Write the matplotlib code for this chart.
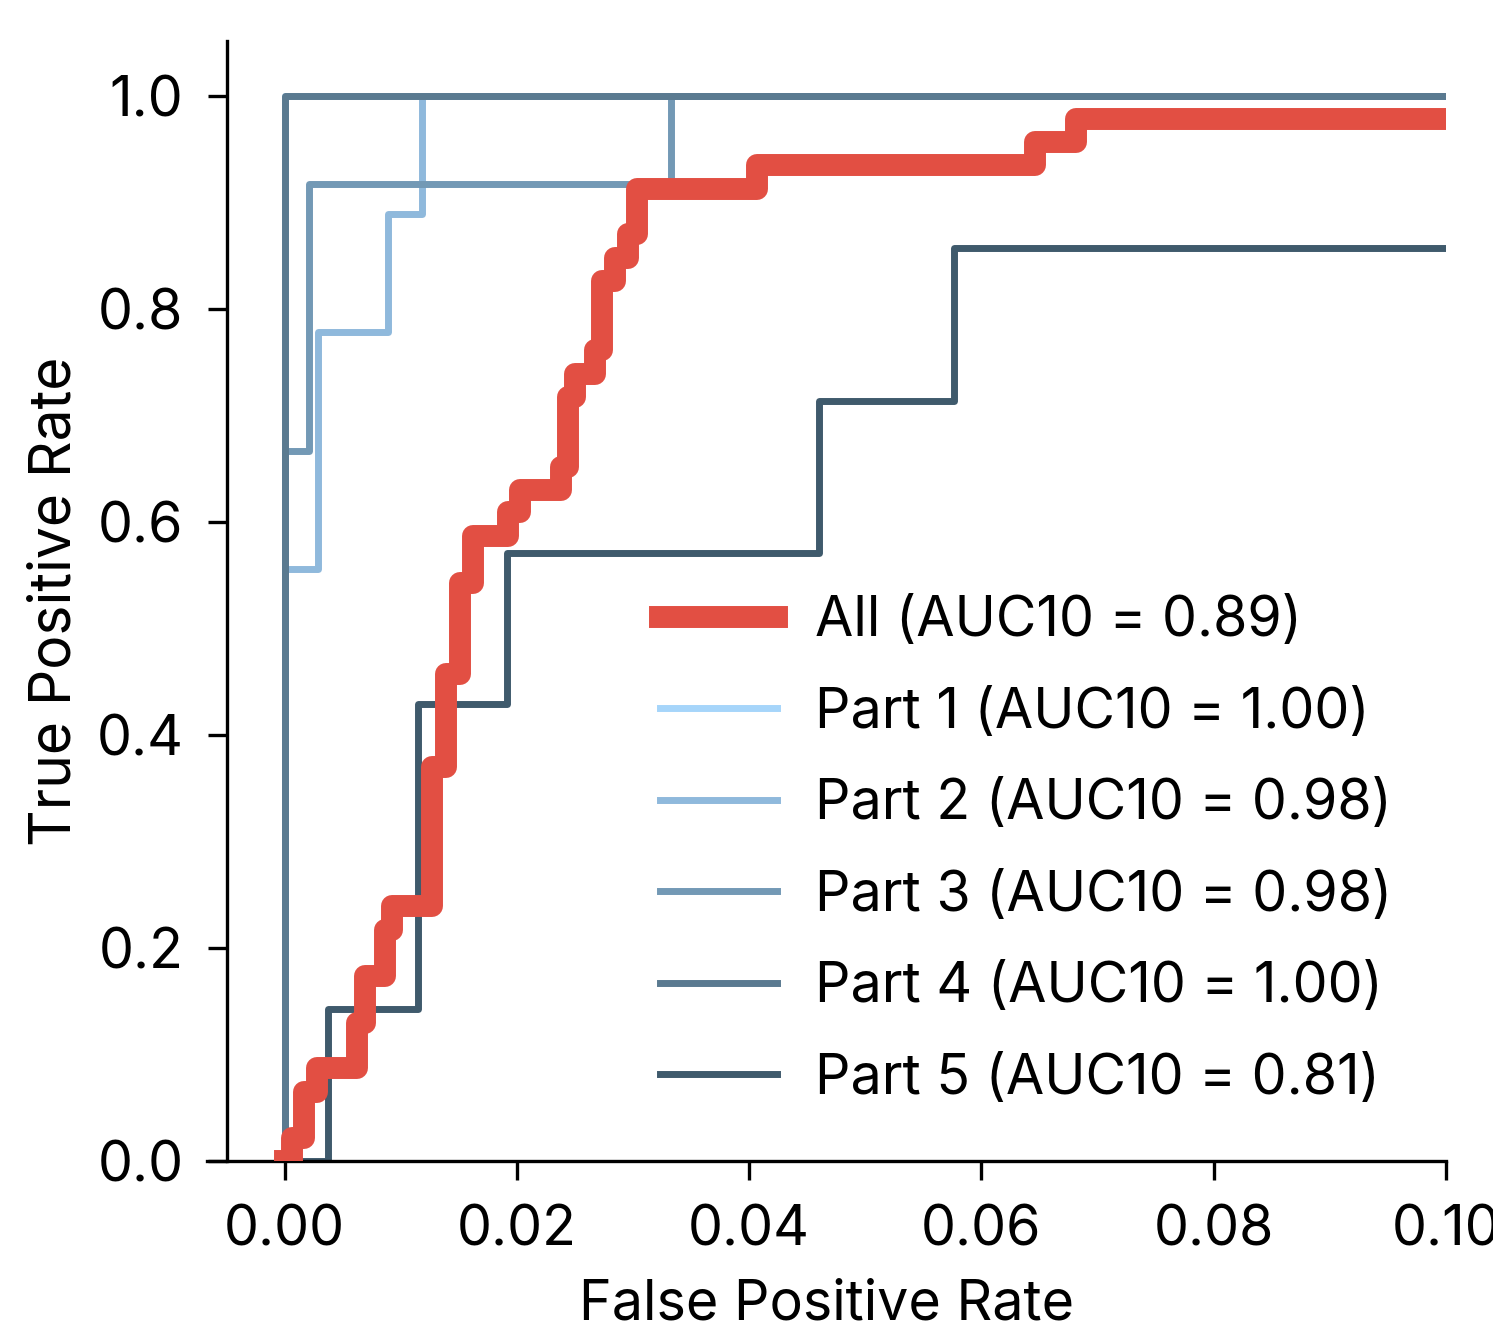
import matplotlib
matplotlib.use("Agg")
import matplotlib.pyplot as plt

plt.rcParams["font.family"] = ["Inter", "DejaVu Sans"]

# ROC step points (fpr, tpr), drawn with steps-post
all_fpr = [0.0, 0.0006, 0.0017, 0.0028, 0.0062, 0.0069, 0.0086, 0.0092, 0.0127,
           0.0139, 0.0151, 0.0162, 0.0192, 0.0203, 0.0238, 0.0244, 0.0250, 0.0267,
           0.0273, 0.0284, 0.0296, 0.0303, 0.0407, 0.0646, 0.0681, 0.1]
all_tpr = [0.0, 0.022, 0.065, 0.087, 0.130, 0.174, 0.217, 0.239, 0.370,
           0.457, 0.543, 0.587, 0.609, 0.630, 0.652, 0.717, 0.739, 0.761,
           0.826, 0.848, 0.870, 0.913, 0.935, 0.957, 0.978, 0.978]

part_fpr = [
    [0.0, 0.0, 0.1],
    [0.0, 0.0, 0.0029, 0.0089, 0.0118, 0.1],
    [0.0, 0.0, 0.0021, 0.0333, 0.1],
    [0.0, 0.0, 0.1],
    [0.0, 0.0037, 0.0115, 0.0191, 0.0460, 0.0576, 0.1],
]
part_tpr = [
    [0.0, 1.0, 1.0],
    [0.0, 0.556, 0.778, 0.889, 1.0, 1.0],
    [0.0, 0.667, 0.917, 1.0, 1.0],
    [0.0, 1.0, 1.0],
    [0.0, 0.143, 0.429, 0.571, 0.714, 0.857, 0.857],
]
part_auc = [1.00, 0.98, 0.98, 1.00, 0.81]
all_auc = 0.89

part_colors = ["#a6d5fa", "#8fb9dc", "#7399b5", "#5a7a90", "#3f5a6c"]
all_color = "#e24f43"

fig = plt.figure(figsize=(7.465, 6.61), dpi=200)
ax = fig.add_axes([0.1386, 0.1218, 0.8299, 0.8472])

ax.plot(all_fpr, all_tpr, drawstyle="steps-post", color=all_color, linewidth=7.9,
        label=f"All (AUC10 = {all_auc:.2f})", zorder=3)
for i, (fp, tp) in enumerate(zip(part_fpr, part_tpr)):
    ax.plot(fp, tp, drawstyle="steps-post", color=part_colors[i], linewidth=2.5,
            label=f"Part {i + 1} (AUC10 = {part_auc[i]:.2f})", zorder=2)

ax.set_xlim(-0.0067, 0.1)
ax.set_ylim(0, 1.0516)
ax.set_xticks([0.0, 0.02, 0.04, 0.06, 0.08, 0.10])
ax.set_yticks([0.0, 0.2, 0.4, 0.6, 0.8, 1.0])
ax.set_xticklabels(["0.00", "0.02", "0.04", "0.06", "0.08", "0.10"])

ax.spines["top"].set_visible(False)
ax.spines["right"].set_visible(False)
ax.spines["left"].set_position(("data", -0.005))
for s in ["left", "bottom"]:
    ax.spines[s].set_linewidth(1.2)
ax.tick_params(labelsize=20, length=7, width=1.2, pad=8.5, color="black")

ax.set_xlabel("False Positive Rate", fontsize=20, labelpad=8)
ax.set_ylabel("True Positive Rate", fontsize=20.5, labelpad=5)

ax.legend(loc="upper left", bbox_to_anchor=(0.3656, 0.505), frameon=False,
          fontsize=20, borderpad=0, borderaxespad=0, handlelength=2.1,
          handletextpad=0.7, labelspacing=0.71)

fig.savefig("out.png", dpi=200)
